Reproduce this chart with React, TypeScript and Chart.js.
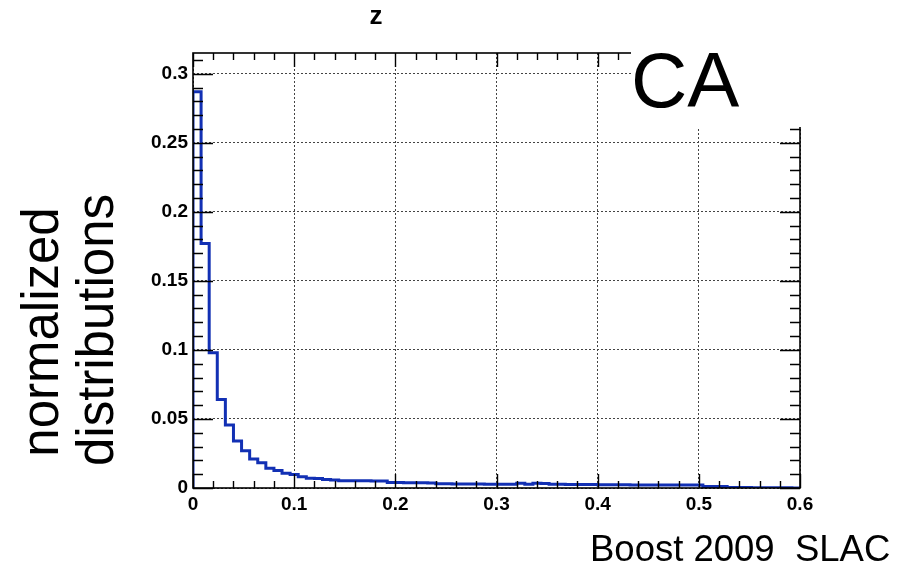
import React, { useEffect, useRef } from "react";
import { Chart, registerables } from "chart.js";

Chart.register(...registerables);

// ---- data ----
const xMin = 0;
const xMax = 0.6;
const binWidth = 0.008;
const binValues = [
  0.287, 0.177, 0.098, 0.064, 0.0457, 0.034, 0.027, 0.021, 0.0183, 0.0143,
  0.0126, 0.0106, 0.0097, 0.0082, 0.0071, 0.0068, 0.0061, 0.0058, 0.0053, 0.0053,
  0.0052, 0.0052, 0.0051, 0.0051,
  0.0039, 0.0039, 0.0038, 0.0038, 0.0038, 0.0037,
  0.003, 0.003, 0.0029, 0.0029, 0.0029, 0.0029, 0.0028, 0.0028, 0.0028, 0.0028,
  0.0034, 0.0028, 0.0034, 0.0033,
  0.0027, 0.0027, 0.0026, 0.0026, 0.0026, 0.0025,
  0.0024, 0.0023, 0.0023, 0.0023, 0.0022, 0.0022, 0.0022, 0.0022, 0.0022, 0.0021,
  0.0021, 0.0021, 0.0021,
  0.0011, 0.001, 0.001,
  0.0004, 0.0003, 0.0003, 0.0002, 0.0002, 0.0001, 0.0001, 0.0001, 0,
];
const yMin = 0;
const yMax = 0.315;
const xTicks = [0, 0.1, 0.2, 0.3, 0.4, 0.5, 0.6];
const xTickLabels = ["0", "0.1", "0.2", "0.3", "0.4", "0.5", "0.6"];
const yTicks = [0, 0.05, 0.1, 0.15, 0.2, 0.25, 0.3];
const yTickLabels = ["0", "0.05", "0.1", "0.15", "0.2", "0.25", "0.3"];
const xMinorStep = 0.02;
const yMinorStep = 0.01;
const titleText = "z";
const yTitleLines = ["normalized", "distributions"];
const labelText = "CA";
const footerText = "Boost 2009  SLAC";

const FONT = "'Liberation Sans', Arial, Helvetica, sans-serif";

const framePlugin = {
  id: "rootFrame",
  afterDatasetsDraw(chart: any) {
    const { ctx, chartArea: a, scales } = chart;
    const x = scales.x;
    const y = scales.y;
    ctx.save();
    ctx.strokeStyle = "#000";
    ctx.lineWidth = 1.6;
    ctx.strokeRect(a.left, a.top, a.right - a.left, a.bottom - a.top);
    ctx.lineWidth = 1.4;
    ctx.beginPath();
    const nx = Math.round((xMax - xMin) / xMinorStep);
    for (let i = 0; i <= nx; i++) {
      const v = xMin + i * xMinorStep;
      const major = i % 5 === 0;
      const len = major ? 14 : 7;
      const px = Math.round(x.getPixelForValue(v)) + 0.5;
      ctx.moveTo(px, a.bottom);
      ctx.lineTo(px, a.bottom - len);
      ctx.moveTo(px, a.top);
      ctx.lineTo(px, a.top + len);
    }
    const ny = Math.floor((yMax - yMin) / yMinorStep + 1e-6);
    for (let i = 0; i <= ny; i++) {
      const v = yMin + i * yMinorStep;
      const major = i % 5 === 0;
      const len = major ? 20 : 10;
      const py = Math.round(y.getPixelForValue(v)) + 0.5;
      ctx.moveTo(a.left, py);
      ctx.lineTo(a.left + len, py);
      ctx.moveTo(a.right, py);
      ctx.lineTo(a.right - len, py);
    }
    ctx.stroke();
    ctx.restore();
  },
  afterDraw(chart: any) {
    const { ctx } = chart;
    ctx.save();
    // label box
    ctx.fillStyle = "#fff";
    ctx.fillRect(631, 28, 190, 99);
    ctx.fillStyle = "#000";
    ctx.textAlign = "left";
    ctx.textBaseline = "alphabetic";
    ctx.font = `78px ${FONT}`;
    ctx.fillText(labelText, 631, 107);
    // title
    ctx.font = `bold 26px ${FONT}`;
    ctx.textAlign = "center";
    ctx.textBaseline = "middle";
    ctx.fillText(titleText, 376, 17);
    // y title
    ctx.save();
    ctx.rotate(-Math.PI / 2);
    ctx.font = `51px ${FONT}`;
    ctx.textAlign = "center";
    ctx.textBaseline = "alphabetic";
    ctx.fillText(yTitleLines[0], -332, 58);
    ctx.fillText(yTitleLines[1], -330, 113);
    ctx.restore();
    // footer
    ctx.font = `36.5px ${FONT}`;
    ctx.textAlign = "left";
    ctx.textBaseline = "alphabetic";
    ctx.fillText(footerText, 590, 561);
    ctx.restore();
  },
};

export default function App() {
  const ref = useRef<HTMLCanvasElement | null>(null);
  useEffect(() => {
    if (!ref.current) return;
    const points: { x: number; y: number }[] = [{ x: xMin, y: 0 }];
    binValues.forEach((v, i) => points.push({ x: xMin + i * binWidth, y: v }));
    points.push({ x: xMax, y: 0 });
    const chart = new Chart(ref.current, {
      type: "line",
      data: {
        datasets: [
          {
            data: points,
            stepped: "before",
            borderColor: "#1230b4",
            borderWidth: 3,
            pointRadius: 0,
            fill: false,
            tension: 0,
          },
        ],
      },
      options: {
        responsive: false,
        animation: false,
        events: [],
        layout: { padding: { left: 0, top: 53, right: 98, bottom: 0 } },
        plugins: {
          legend: { display: false },
          title: { display: false },
          tooltip: { enabled: false },
        },
        scales: {
          x: {
            type: "linear",
            min: xMin,
            max: xMax,
            afterFit: (s: any) => {
              s.height = 77;
            },
            afterBuildTicks: (s: any) => {
              s.ticks = xTicks.map((v) => ({ value: v }));
            },
            ticks: {
              callback: (v: any) => {
                const i = xTicks.findIndex((t) => Math.abs(t - v) < 1e-9);
                return i >= 0 ? xTickLabels[i] : "";
              },
              maxRotation: 0,
              autoSkip: false,
              padding: 5,
              color: "#000",
              font: { family: FONT, size: 19, weight: "bold" },
            },
            grid: { color: "#444", lineWidth: 1, drawTicks: false },
            border: { display: false, dash: [2, 2] },
          },
          y: {
            type: "linear",
            min: yMin,
            max: yMax,
            afterFit: (s: any) => {
              s.width = 193;
            },
            afterBuildTicks: (s: any) => {
              s.ticks = yTicks.map((v) => ({ value: v }));
            },
            ticks: {
              callback: (v: any) => {
                const i = yTicks.findIndex((t) => Math.abs(t - v) < 1e-9);
                return i >= 0 ? yTickLabels[i] : "";
              },
              autoSkip: false,
              padding: 5,
              color: "#000",
              font: { family: FONT, size: 19, weight: "bold" },
            },
            grid: { color: "#444", lineWidth: 1, drawTicks: false },
            border: { display: false, dash: [2, 2] },
          },
        },
      },
      plugins: [framePlugin],
    });
    return () => chart.destroy();
  }, []);
  return (
    <div style={{ position: "absolute", left: 0, top: 0, width: 898, height: 565, background: "#fff" }}>
      <canvas ref={ref} width={898} height={565} />
    </div>
  );
}
